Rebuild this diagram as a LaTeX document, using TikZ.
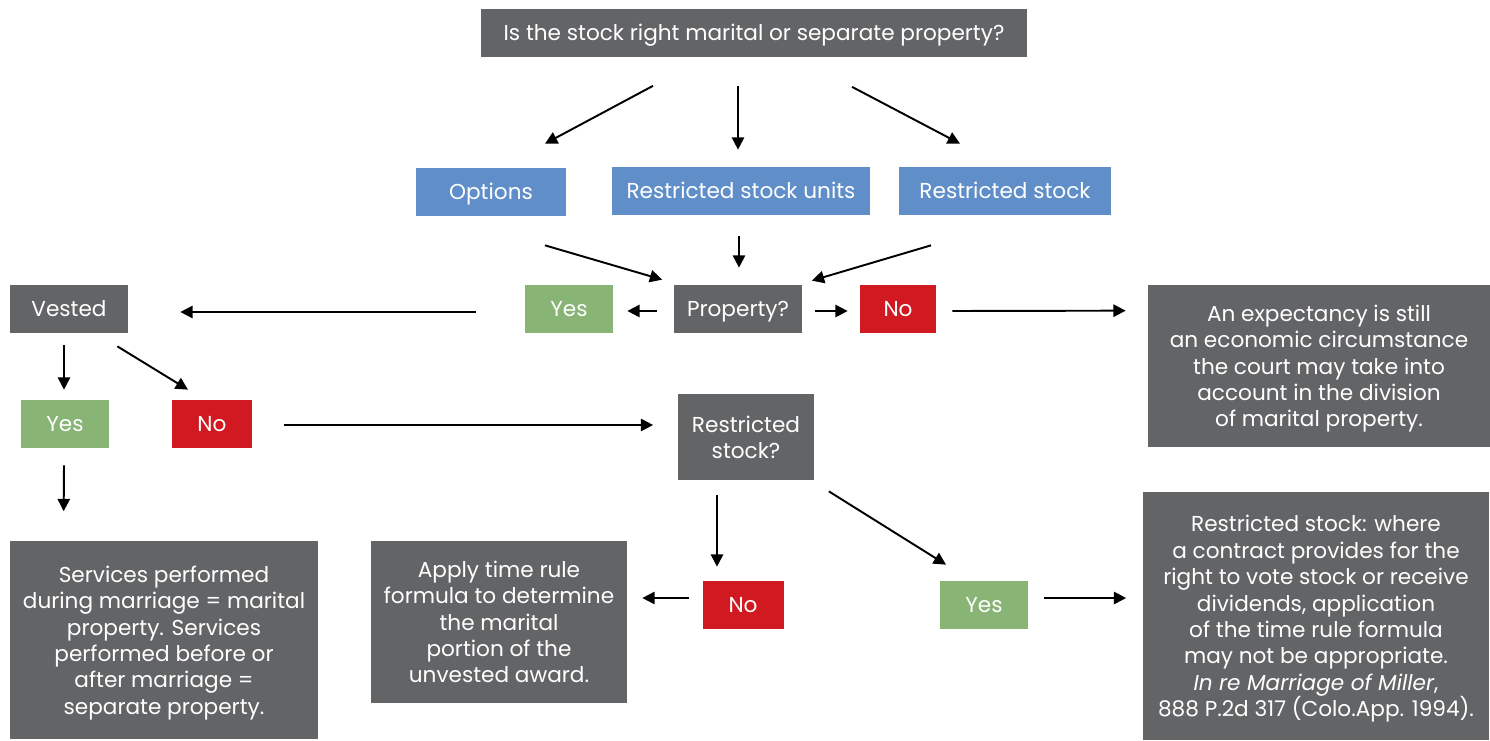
\documentclass[tikz,border=0pt]{standalone}
\usepackage{fontspec}
\setmainfont{Poppins}
\usetikzlibrary{arrows.meta,calc}
\definecolor{boxgray}{RGB}{99,100,102}
\definecolor{boxblue}{RGB}{96,142,201}
\definecolor{boxgreen}{RGB}{136,180,118}
\definecolor{boxred}{RGB}{208,25,32}
\tikzset{
  box/.style={fill=boxgray, text=white, inner sep=0pt, align=center, text depth=0pt,
    font=\fontsize{12.3}{15}\selectfont},
  single/.style={box, text height=0.85em, minimum height=0.96cm},
  kind/.style={single, fill=boxblue},
  yesbox/.style={single, fill=boxgreen, minimum width=1.76cm},
  nobox/.style={single, fill=boxred, minimum width=1.62cm},
  arr/.style={-{Triangle[length=7pt,width=7pt]}, line width=1.1pt}
}
\begin{document}
\begin{tikzpicture}[x=0.02cm,y=-0.02cm]
	\useasboundingbox (0,0) rectangle (1490,740);

	% question and the three kinds of award
	\node[single, minimum width=10.92cm, minimum height=0.98cm](title) at (754,33) {Is the stock right marital or separate property?};
	\node[kind, minimum width=3cm](options) at (491,192) {Options};
	\node[kind, minimum width=5.16cm](rsu) at (741,191) {Restricted stock units};
	\node[kind, minimum width=4.24cm](rs) at (1005,191) {Restricted stock};

	% property?
	\node[single, minimum width=2.58cm](prop) at (738,309) {Property?};
	\node[yesbox](yes1) at (569,309) {Yes};
	\node[nobox, minimum width=1.52cm](no1) at (898,309) {No};
	\node[single, minimum width=2.36cm](vested) at (69,309) {Vested};
	\node[box, minimum width=6.84cm, minimum height=3.24cm](expect) at (1319,366) {An expectancy is still\\an economic circumstance\\the court may take into\\account in the division\\of marital property.};

	% vested?
	\node[yesbox](yes2) at (65,424) {Yes};
	\node[nobox](no2) at (212,424) {No};
	\node[box, minimum width=2.74cm, minimum height=1.72cm](rsq) at (746,437) {Restricted\\stock?};
	\node[box, minimum width=6.16cm, minimum height=3.98cm](services) at (164,640) {Services performed\\during marriage = marital\\property. Services\\performed before or\\after marriage =\\separate property.};

	% restricted stock?
	\node[nobox](no3) at (743,605) {No};
	\node[yesbox](yes3) at (984,605) {Yes};
	\node[box, minimum width=5.12cm, minimum height=3.24cm](apply) at (499,622) {Apply time rule\\formula to determine\\the marital\\portion of the\\unvested award.};
	\node[box, minimum width=6.94cm, minimum height=4.96cm](rsbox) at (1316,616) {Restricted stock: where\\a contract provides for the\\right to vote stock or receive\\dividends, application\\of the time rule formula\\may not be appropriate.\\\textit{In re Marriage of Miller},\\888 P.2d 317 (Colo.App. 1994).};

	\draw[arr] ($(title.south)+(-101,28)$) -- ($(options.north)+(54,-24)$);
	\draw[arr] ($(title.south)+(-16,28)$) -- ($(rsu.north)+(-3,-17)$);
	\draw[arr] ($(title.south)+(98,29)$) -- ($(rs.north)+(-45,-23)$);

	\draw[arr] ($(options.south)+(54,29)$) -- ($(prop.north west)+(-11,-5)$);
	\draw[arr] ($(rsu.south)+(-2,21)$) -- ($(prop.north)+(1,-17)$);
	\draw[arr] ($(rs.south)+(-74,30)$) -- ($(prop.north east)+(9,-4)$);
	\draw[arr] ($(prop.west)+(-16,2)$) -- ($(yes1.east)+(14,2)$);
	\draw[arr] ($(prop.east)+(12,2)$) -- ($(no1.west)+(-12,2)$);
	\draw[arr] ($(no1.east)+(16,2)$) -- ($(expect.north west)+(-22,26)$);
	\draw[arr] ($(yes1.west)+(-49,3)$) -- ($(vested.east)+(52,3)$);

	\draw[arr] ($(vested.south)+(-5,12)$) -- ($(yes2.north)+(-1,-10)$);
	\draw[arr] ($(vested.south east)+(-11,13)$) -- ($(no2.north)+(-24,-10)$);
	\draw[arr] ($(no2.east)+(31,1)$) -- ($(rsq.west)+(-24,-12)$);
	\draw[arr] ($(yes2.south)+(-1,17)$) -- ($(services.north west)+(54,-29)$);

	\draw[arr] ($(rsq.south)+(-29,15)$) -- ($(no3.north)+(-26,-14)$);
	\draw[arr] ($(rsq.south east)+(14,11)$) -- ($(yes3.north)+(-38,-16)$);
	\draw[arr] ($(no3.west)+(-13,-7)$) -- ($(apply.east)+(15,-24)$);
	\draw[arr] ($(yes3.east)+(16,-7)$) -- ($(rsbox.west)+(-16,-18)$);
\end{tikzpicture}
\end{document}
